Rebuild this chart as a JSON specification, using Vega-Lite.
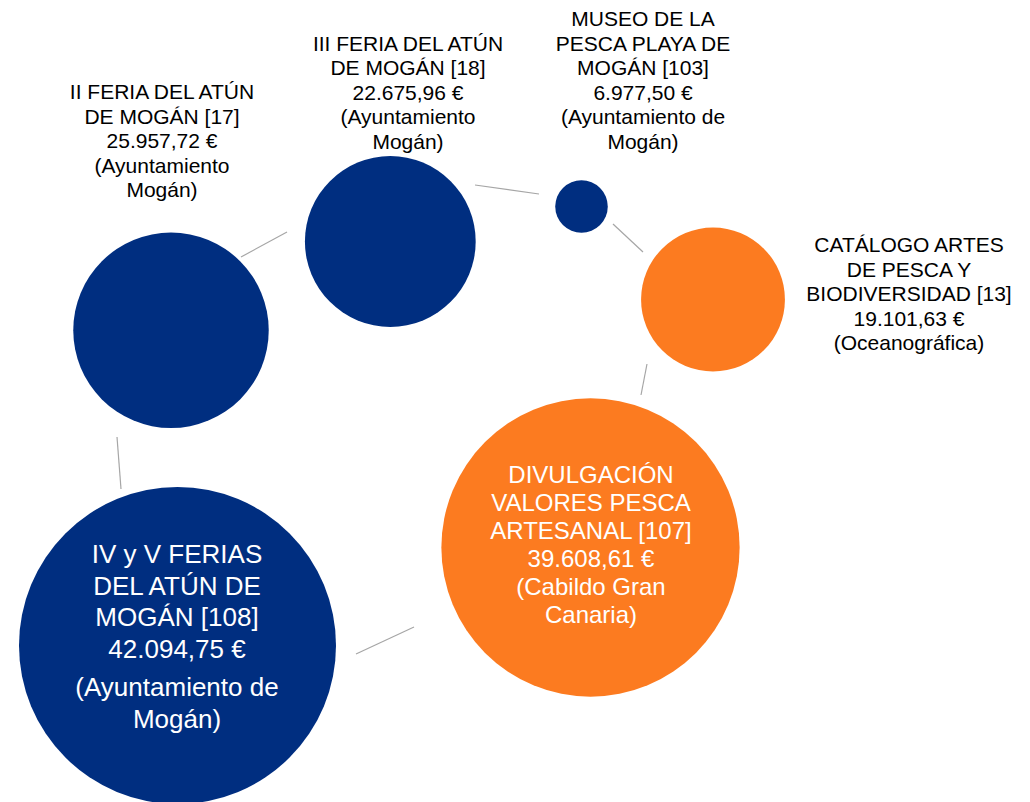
{
  "$schema": "https://vega.github.io/schema/vega-lite/v6.json",
  "width": 1030,
  "height": 802,
  "autosize": {"type": "none"},
  "padding": 0,
  "background": "white",
  "config": {"view": {"stroke": null}, "font": "Liberation Sans"},
  "datasets": {
    "proyectos": [
      {"proyecto": "IV y V FERIAS DEL ATÚN DE MOGÁN", "ref": 108, "importe": 42094.75, "financiador": "Ayuntamiento de Mogán", "tipo": "Ayuntamiento", "x": 177.5, "y": 645.5},
      {"proyecto": "II FERIA DEL ATÚN DE MOGÁN", "ref": 17, "importe": 25957.72, "financiador": "Ayuntamiento Mogán", "tipo": "Ayuntamiento", "x": 171, "y": 330.3},
      {"proyecto": "III FERIA DEL ATÚN DE MOGÁN", "ref": 18, "importe": 22675.96, "financiador": "Ayuntamiento Mogán", "tipo": "Ayuntamiento", "x": 390.3, "y": 241.5},
      {"proyecto": "MUSEO DE LA PESCA PLAYA DE MOGÁN", "ref": 103, "importe": 6977.5, "financiador": "Ayuntamiento de Mogán", "tipo": "Ayuntamiento", "x": 581.5, "y": 206.5},
      {"proyecto": "CATÁLOGO ARTES DE PESCA Y BIODIVERSIDAD", "ref": 13, "importe": 19101.63, "financiador": "Oceanográfica", "tipo": "Otros", "x": 713, "y": 299.5},
      {"proyecto": "DIVULGACIÓN VALORES PESCA ARTESANAL", "ref": 107, "importe": 39608.61, "financiador": "Cabildo Gran Canaria", "tipo": "Otros", "x": 590.5, "y": 547.5}
    ],
    "enlaces": [
      {"de": 17, "a": 18, "x": 241, "y": 257, "x2": 287, "y2": 232},
      {"de": 18, "a": 103, "x": 475, "y": 185, "x2": 539, "y2": 194},
      {"de": 103, "a": 13, "x": 613, "y": 224, "x2": 643, "y2": 252},
      {"de": 13, "a": 107, "x": 647, "y": 364, "x2": 641, "y2": 395},
      {"de": 107, "a": 108, "x": 414, "y": 627, "x2": 356, "y2": 654},
      {"de": 108, "a": 17, "x": 117, "y": 437, "x2": 121, "y2": 489}
    ],
    "etiquetas": [
      {"texto": "II FERIA DEL ATÚN\nDE MOGÁN [17]\n25.957,72 €\n(Ayuntamiento\nMogán)", "estilo": "fuera", "x": 162, "y": 99},
      {"texto": "III FERIA DEL ATÚN\nDE MOGÁN [18]\n22.675,96 €\n(Ayuntamiento\nMogán)", "estilo": "fuera", "x": 408, "y": 50.5},
      {"texto": "MUSEO DE LA\nPESCA PLAYA DE\nMOGÁN [103]\n6.977,50 €\n(Ayuntamiento de\nMogán)", "estilo": "fuera", "x": 643, "y": 26},
      {"texto": "CATÁLOGO ARTES\nDE PESCA Y\nBIODIVERSIDAD [13]\n19.101,63 €\n(Oceanográfica)", "estilo": "fuera", "x": 909, "y": 252},
      {"texto": "DIVULGACIÓN\nVALORES PESCA\nARTESANAL [107]\n39.608,61 €\n(Cabildo Gran\nCanaria)", "estilo": "naranja", "x": 591, "y": 483},
      {"texto": "IV y V FERIAS\nDEL ATÚN DE\nMOGÁN [108]\n42.094,75 €", "estilo": "azul", "x": 177, "y": 563},
      {"texto": "(Ayuntamiento de\nMogán)", "estilo": "azul", "x": 177, "y": 696}
    ]
  },
  "encoding": {
    "x": {"field": "x", "type": "quantitative", "scale": {"domain": [0, 1030], "nice": false, "zero": false}, "axis": null},
    "y": {"field": "y", "type": "quantitative", "scale": {"domain": [802, 0], "nice": false, "zero": false}, "axis": null}
  },
  "layer": [
    {
      "data": {"name": "enlaces"},
      "mark": {"type": "rule", "color": "#A6A6A6", "strokeWidth": 1.2},
      "encoding": {"x2": {"field": "x2"}, "y2": {"field": "y2"}}
    },
    {
      "data": {"name": "proyectos"},
      "mark": {"type": "point", "shape": "circle", "filled": true, "opacity": 1, "strokeWidth": 0},
      "encoding": {
        "size": {"field": "importe", "type": "quantitative", "scale": {"type": "pow", "exponent": 2, "domain": [0, 42094.75], "range": [0, 100489]}, "legend": null},
        "color": {"field": "tipo", "type": "nominal", "scale": {"domain": ["Ayuntamiento", "Otros"], "range": ["#002E80", "#FC7B20"]}, "legend": null}
      }
    },
    {
      "data": {"name": "etiquetas"},
      "transform": [{"filter": "datum.estilo === 'fuera'"}],
      "mark": {"type": "text", "align": "center", "baseline": "alphabetic", "fontSize": 21, "lineHeight": 24.5, "lineBreak": "\n", "color": "#000000"},
      "encoding": {"text": {"field": "texto", "type": "nominal"}}
    },
    {
      "data": {"name": "etiquetas"},
      "transform": [{"filter": "datum.estilo === 'naranja'"}],
      "mark": {"type": "text", "align": "center", "baseline": "alphabetic", "fontSize": 24, "lineHeight": 28, "lineBreak": "\n", "color": "#FFFFFF"},
      "encoding": {"text": {"field": "texto", "type": "nominal"}}
    },
    {
      "data": {"name": "etiquetas"},
      "transform": [{"filter": "datum.estilo === 'azul'"}],
      "mark": {"type": "text", "align": "center", "baseline": "alphabetic", "fontSize": 26, "lineHeight": 31.5, "lineBreak": "\n", "color": "#FFFFFF"},
      "encoding": {"text": {"field": "texto", "type": "nominal"}}
    }
  ]
}
